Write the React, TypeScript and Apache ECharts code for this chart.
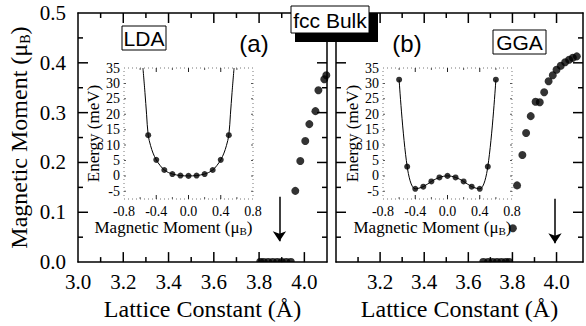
import React, { useEffect, useRef } from "react";
import * as echarts from "echarts";

// ---- main panels: local magnetic moment (μB) vs. fcc lattice constant (Å) ----
// (a) LDA
const ldaLattice = [3.96, 3.982, 4.004, 4.022, 4.049, 4.062, 4.088, 4.097];
const ldaMoment = [0.143, 0.203, 0.243, 0.277, 0.303, 0.345, 0.367, 0.375];
const ldaZeroLattice = [3.805, 3.82, 3.84, 3.86, 3.88, 3.9, 3.92, 3.94];
const ldaZeroMoment = [0, 0, 0, 0, 0, 0, 0, 0];
const ldaArrowLattice = 3.89;
const ldaArrowSpan = [0.131, 0.042];

// (b) GGA
const ggaLattice = [3.802, 3.821, 3.845, 3.862, 3.883, 3.905, 3.924, 3.944, 3.964, 3.983, 4.0, 4.019, 4.039, 4.057, 4.074, 4.092];
const ggaMoment = [0.068, 0.154, 0.215, 0.259, 0.293, 0.322, 0.321, 0.341, 0.363, 0.375, 0.386, 0.394, 0.401, 0.406, 0.41, 0.413];
const ggaZeroLattice = [3.668, 3.69, 3.71, 3.73, 3.75, 3.77, 3.785];
const ggaZeroMoment = [0, 0, 0, 0, 0, 0, 0];
const ggaArrowLattice = 3.993;
const ggaArrowSpan = [0.127, 0.038];

// tick positions of the main frames
const latticeLabels = ["3.0", "3.2", "3.4", "3.6", "3.8", "4.0"];
const latticeMajor = [3.2, 3.4, 3.6, 3.8, 4.0];
const latticeMinor = [3.1, 3.3, 3.5, 3.7, 3.9];
const momentMajor = [0.1, 0.2, 0.3, 0.4];
const momentMinor = [0.05, 0.15, 0.25, 0.35, 0.45];

// ---- insets: energy (meV) vs. magnetic moment (μB) ----
const ldaInsetMoment = [-0.5, -0.4, -0.3, -0.2, -0.1, 0, 0.1, 0.2, 0.3, 0.4, 0.5];
const ldaInsetEnergy = [13.2, 5.2, 1.9, 0.6, 0.1, 0, 0.1, 0.6, 1.9, 5.2, 13.2];
const ldaFitMoment = [-0.565, -0.54, -0.52, -0.5, -0.47, -0.44, -0.4, -0.35, -0.3, -0.25, -0.2, -0.1, 0, 0.1, 0.2, 0.25, 0.3, 0.35, 0.4, 0.44, 0.47, 0.5, 0.52, 0.54, 0.565];
const ldaFitEnergy = [35, 27, 20, 13.2, 9.8, 7.4, 5.2, 3.3, 1.9, 1.1, 0.6, 0.1, 0, 0.1, 0.6, 1.1, 1.9, 3.3, 5.2, 7.4, 9.8, 13.2, 20, 27, 35];

const ggaInsetMoment = [-0.6, -0.5, -0.4, -0.3, -0.2, -0.1, 0, 0.1, 0.2, 0.3, 0.4, 0.5, 0.6];
const ggaInsetEnergy = [31.2, 3.0, -4.2, -3.5, -1.8, -0.5, 0, -0.5, -1.8, -3.5, -4.2, 3.0, 31.2];

// tick positions of the inset frames
const insetMomentMajor = [-0.4, 0, 0.4];
const insetMomentMinor = [-0.6, -0.2, 0.2, 0.6];
const insetEnergyTicks = [-5, 0, 5, 10, 15, 20, 25, 30];

const SERIF = '"Liberation Serif", "Times New Roman", serif';
const SANS = '"Liberation Sans", Arial, sans-serif';
const INK = "#000";

const pairs = (xs: number[], ys: number[]) => xs.map((x, i) => [x, ys[i]]);

// upper half of a dot: points sitting on the zero line show only above it
const HALF_DOT = "path://M0,4A4,4,0,0,1,8,4Z";

const momentName = (size: number, sub: number, drop: number) => ({
  name: "{n|Magnetic Moment (μ}{s|B}{n|)}",
  rich: {
    n: { fontFamily: SERIF, fontSize: size, color: INK },
    s: { fontFamily: SERIF, fontSize: sub, color: INK, padding: [drop, 0, 0, 0] },
  },
});

const frameLine = { show: true, onZero: false, lineStyle: { color: INK, width: 1.5 } };
const noTick = { show: false };

function mainXAxes(gridIndex: number, max: number, showFirst: boolean) {
  const base: any = { type: "value", gridIndex, min: 3.0, max, interval: 0.2, splitLine: { show: false }, axisTick: noTick };
  const fmt = (v: number) => {
    const s = v.toFixed(1);
    if (!showFirst && s === latticeLabels[0]) return "";
    return latticeLabels.includes(s) && v < 4.05 ? s : "";
  };
  return [
    {
      ...base, position: "bottom", axisLine: frameLine,
      axisLabel: { show: true, formatter: fmt, margin: 9, color: INK, fontFamily: SERIF, fontSize: 21 },
      name: "Lattice Constant (Å)", nameLocation: "middle", nameGap: 28,
      nameTextStyle: { color: INK, fontFamily: SERIF, fontSize: 24 },
    },
    { ...base, position: "top", axisLine: frameLine, axisLabel: { show: false } },
  ];
}

function mainYAxes(gridIndex: number, labelled: boolean) {
  const base: any = {
    type: "value", gridIndex, min: 0, max: 0.5, interval: 0.1,
    splitLine: { show: false }, axisLine: frameLine, axisTick: noTick,
  };
  const mn = momentName(24, 14, 12);
  return [
    {
      ...base, position: "left",
      axisLabel: labelled
        ? { show: true, formatter: (v: number) => v.toFixed(1), margin: 12, color: INK, fontFamily: SERIF, fontSize: 21 }
        : { show: false },
      ...(labelled
        ? { name: mn.name, nameLocation: "middle", nameGap: 46, nameTextStyle: { color: INK, fontFamily: SERIF, fontSize: 24, rich: mn.rich } }
        : {}),
    },
    { ...base, position: "right", axisLabel: { show: false } },
  ];
}

function insetXAxis(gridIndex: number) {
  const mn = momentName(17, 11, 8);
  return {
    type: "value", gridIndex, min: -0.8, max: 0.8, interval: 0.4, position: "bottom",
    splitLine: { show: false }, axisLine: { show: false, onZero: false }, axisTick: noTick,
    axisLabel: { show: true, formatter: (v: number) => v.toFixed(1), margin: 5, color: INK, fontFamily: SERIF, fontSize: 14 },
    name: mn.name, nameLocation: "middle", nameGap: 9,
    nameTextStyle: { color: INK, fontFamily: SERIF, fontSize: 17, rich: mn.rich, padding: [0, 30, 0, 0] },
  };
}

function insetYAxis(gridIndex: number) {
  return {
    type: "value", gridIndex, min: -7.5, max: 35, interval: 2.5, position: "left",
    splitLine: { show: false }, axisLine: { show: false, onZero: false }, axisTick: noTick,
    axisLabel: {
      show: true, margin: 4, color: INK, fontFamily: SERIF, fontSize: 14,
      formatter: (v: number) => (Math.abs(v % 5) < 1e-6 ? String(v) : ""),
    },
    name: "Energy (meV)", nameLocation: "middle", nameGap: 21,
    nameTextStyle: { color: INK, fontFamily: SERIF, fontSize: 17 },
  };
}

// dotted border around an inset
const dottedFrame = (xi: number, yi: number, anchor: number[]) => ({
  type: "custom", xAxisIndex: xi, yAxisIndex: yi, silent: true, z: 3,
  data: [anchor],
  renderItem: (params: any) => {
    const cs = params.coordSys;
    return {
      type: "rect",
      shape: { x: cs.x, y: cs.y, width: cs.width, height: cs.height },
      style: { fill: "none", stroke: "#777", lineWidth: 1, lineDash: [1, 3] },
    };
  },
});

const arrowMark = (lattice: number, span: number[]) => ({
  silent: true,
  symbol: ["none", "arrow"],
  symbolSize: 10,
  lineStyle: { color: INK, width: 1.5, type: "solid" },
  label: { show: false },
  emphasis: { disabled: true },
  data: [[{ coord: [lattice, span[0]] }, { coord: [lattice, span[1]] }]],
});

const dots = (xi: number, yi: number, xs: number[], ys: number[], size: number, extra: any = {}) => ({
  type: "scatter", xAxisIndex: xi, yAxisIndex: yi, symbol: "circle", symbolSize: size,
  itemStyle: { color: INK }, data: pairs(xs, ys), clip: false, silent: true, z: 5, ...extra,
});

const zeroBand = (xi: number, yi: number, xs: number[], ys: number[]) => ({
  type: "scatter", xAxisIndex: xi, yAxisIndex: yi, symbol: HALF_DOT, symbolSize: [8, 4], symbolOffset: [0, -2],
  itemStyle: { color: INK }, data: pairs(xs, ys), clip: false, silent: true, z: 5,
});

const curve = (xi: number, yi: number, xs: number[], ys: number[]) => ({
  type: "line", xAxisIndex: xi, yAxisIndex: yi, smooth: 0.35, symbol: "none", silent: true, z: 5,
  lineStyle: { color: INK, width: 1 }, data: pairs(xs, ys),
});

const labelText = (x: number, y: number, text: string, size: number) => ({
  type: "text", z: 102, x, y, silent: true,
  style: { text, fontFamily: SANS, fontSize: size, fill: INK, align: "center", verticalAlign: "middle" },
});

const boxRect = (x: number, y: number, w: number, h: number) => ({
  type: "rect", z: 101, silent: true, shape: { x, y, width: w, height: h },
  style: { fill: "#fff", stroke: INK, lineWidth: 1 },
});

const panelGraphics = [
  { type: "rect", z: 100, silent: true, shape: { x: 295, y: 13, width: 83, height: 29 }, style: { fill: INK } },
  boxRect(291, 6, 78, 27),
  labelText(330, 20, "fcc Bulk", 21),
  boxRect(122, 26, 44, 24),
  labelText(144, 38.5, "LDA", 21),
  boxRect(493, 30, 53, 24),
  labelText(519.5, 42.5, "GGA", 21),
  labelText(254, 43, "(a)", 24),
  labelText(407, 43, "(b)", 24),
];

// axis indices: x 0,1 (a) 2,3 (b) 4 (inset a) 5 (inset b); y likewise
const option: any = {
  animation: false,
  backgroundColor: "#fff",
  grid: [
    { left: 78, top: 13, width: 249, height: 251 },
    { left: 336, top: 13, width: 254, height: 251 },
    { left: 124, top: 68, width: 129, height: 131 },
    { left: 383, top: 68, width: 129, height: 131 },
  ],
  xAxis: [...mainXAxes(0, 4.1, true), ...mainXAxes(1, 4.12, false), insetXAxis(2), insetXAxis(3)],
  yAxis: [...mainYAxes(0, true), ...mainYAxes(1, false), insetYAxis(2), insetYAxis(3)],
  series: [
    dottedFrame(4, 4, [-0.8, -7.5]),
    dottedFrame(5, 5, [-0.8, -7.5]),
    dots(0, 0, ldaLattice, ldaMoment, 8, { markLine: arrowMark(ldaArrowLattice, ldaArrowSpan) }),
    zeroBand(0, 0, ldaZeroLattice, ldaZeroMoment),
    dots(2, 2, ggaLattice, ggaMoment, 8, { markLine: arrowMark(ggaArrowLattice, ggaArrowSpan) }),
    zeroBand(2, 2, ggaZeroLattice, ggaZeroMoment),
    curve(4, 4, ldaFitMoment, ldaFitEnergy),
    dots(4, 4, ldaInsetMoment, ldaInsetEnergy, 6),
    curve(5, 5, ggaInsetMoment, ggaInsetEnergy),
    dots(5, 5, ggaInsetMoment, ggaInsetEnergy, 6),
  ],
  graphic: panelGraphics,
};

// inward tick marks on all four sides of each frame; positions come from the axis scales
type TickSet = { dim: "x" | "y"; values: number[]; length: number; width: number; color: string };
type Frame = { xi: number; yi: number; xRange: number[]; yRange: number[]; sets: TickSet[] };

const frames: Frame[] = [
  {
    xi: 0, yi: 0, xRange: [3.0, 4.1], yRange: [0, 0.5],
    sets: [
      { dim: "x", values: latticeMajor, length: 10, width: 1.5, color: INK },
      { dim: "x", values: latticeMinor, length: 5, width: 1.5, color: INK },
      { dim: "y", values: momentMajor, length: 10, width: 1.5, color: INK },
      { dim: "y", values: momentMinor, length: 5, width: 1.5, color: INK },
    ],
  },
  {
    xi: 2, yi: 2, xRange: [3.0, 4.12], yRange: [0, 0.5],
    sets: [
      { dim: "x", values: latticeMajor, length: 10, width: 1.5, color: INK },
      { dim: "x", values: latticeMinor, length: 5, width: 1.5, color: INK },
      { dim: "y", values: momentMajor, length: 10, width: 1.5, color: INK },
      { dim: "y", values: momentMinor, length: 5, width: 1.5, color: INK },
    ],
  },
  {
    xi: 4, yi: 4, xRange: [-0.8, 0.8], yRange: [-7.5, 35],
    sets: [
      { dim: "x", values: insetMomentMajor, length: 4, width: 1, color: "#222" },
      { dim: "x", values: insetMomentMinor, length: 2, width: 1, color: "#555" },
      { dim: "y", values: insetEnergyTicks, length: 2, width: 1, color: "#555" },
    ],
  },
  {
    xi: 5, yi: 5, xRange: [-0.8, 0.8], yRange: [-7.5, 35],
    sets: [
      { dim: "x", values: insetMomentMajor, length: 4, width: 1, color: "#222" },
      { dim: "x", values: insetMomentMinor, length: 2, width: 1, color: "#555" },
      { dim: "y", values: insetEnergyTicks, length: 2, width: 1, color: "#555" },
    ],
  },
];

function tickGraphics(chart: any) {
  const out: any[] = [];
  frames.forEach((f) => {
    const toX = (v: number) => chart.convertToPixel({ xAxisIndex: f.xi }, v) as number;
    const toY = (v: number) => chart.convertToPixel({ yAxisIndex: f.yi }, v) as number;
    const left = toX(f.xRange[0]);
    const right = toX(f.xRange[1]);
    const bottom = toY(f.yRange[0]);
    const top = toY(f.yRange[1]);
    f.sets.forEach((s) => {
      s.values.forEach((v) => {
        const style = { fill: s.color };
        if (s.dim === "x") {
          const x = toX(v) - s.width / 2;
          out.push({ type: "rect", z: 50, silent: true, shape: { x, y: bottom - s.length, width: s.width, height: s.length }, style });
          out.push({ type: "rect", z: 50, silent: true, shape: { x, y: top, width: s.width, height: s.length }, style });
        } else {
          const y = toY(v) - s.width / 2;
          out.push({ type: "rect", z: 50, silent: true, shape: { x: left, y, width: s.length, height: s.width }, style });
          out.push({ type: "rect", z: 50, silent: true, shape: { x: right - s.length, y, width: s.length, height: s.width }, style });
        }
      });
    });
  });
  return out;
}

export default function App() {
  const ref = useRef<HTMLDivElement>(null);
  useEffect(() => {
    const chart = echarts.init(ref.current!, null, { renderer: "svg" });
    chart.setOption(option);
    chart.setOption({ graphic: [...panelGraphics, ...tickGraphics(chart)] });
    return () => chart.dispose();
  }, []);
  return (
    <div
      ref={ref}
      style={{ position: "fixed", left: 0, top: 0, width: 586, height: 326, background: "#fff" }}
    />
  );
}
